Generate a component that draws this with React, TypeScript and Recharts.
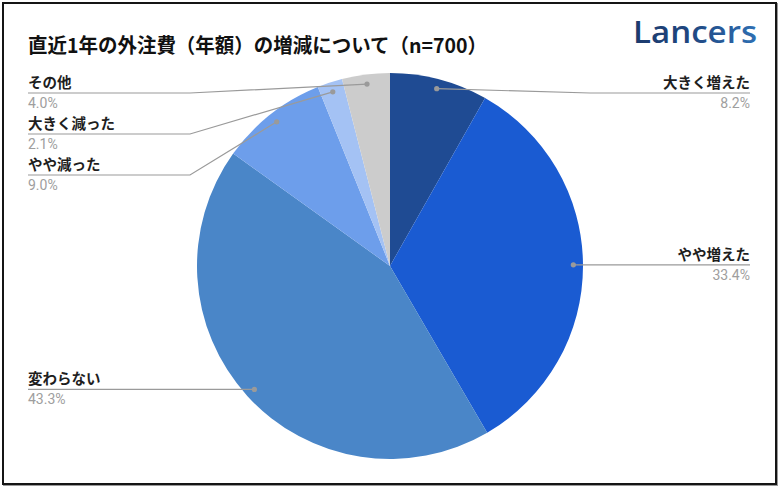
import React from 'react';
import { PieChart, Pie, Cell } from 'recharts';

const CATEGORIES = ['大きく増えた', 'やや増えた', '変わらない', 'やや減った', '大きく減った', 'その他'];
const SHARES = [8.2, 33.4, 43.3, 9.0, 2.1, 4.0];
const COLORS = ['#1f4b93', '#1a5bd2', '#4a86c8', '#6d9eeb', '#a4c2f4', '#cccccc'];

const TITLE = '直近1年の外注費（年額）の増減について（n=700）';

const data = CATEGORIES.map((name, i) => ({ name, value: SHARES[i] }));

const RAD = Math.PI / 180;
const LABEL_GAP = 41;
const TOP_LINE = 93;
const LEFT_EDGE = 28;
const RIGHT_EDGE = 750;
const FONT = '"Noto Sans CJK JP", "Noto Sans", sans-serif';

// stack label underlines per side so they don't collide
function labelLines(cx: number, cy: number, r: number) {
  const total = SHARES.reduce((a, b) => a + b, 0);
  let acc = 0;
  const pts = SHARES.map((v, i) => {
    const mid = 90 - ((acc + v / 2) / total) * 360;
    acc += v;
    return { i, x: cx + r * Math.cos(mid * RAD), y: cy - r * Math.sin(mid * RAD) };
  });
  const ys: number[] = [];
  for (const right of [true, false]) {
    const side = pts.filter((p) => (p.x >= cx) === right).sort((a, b) => a.y - b.y);
    let prev = -Infinity;
    side.forEach((p) => {
      const y = Math.max(p.y, TOP_LINE, prev + LABEL_GAP);
      ys[p.i] = y;
      prev = y;
    });
  }
  return ys;
}

const renderLabel = (props: any) => {
  const { cx, cy, midAngle, outerRadius, index } = props;
  const r = outerRadius * 0.95;
  const x = cx + r * Math.cos(-midAngle * RAD);
  const y = cy + r * Math.sin(-midAngle * RAD);
  const ly = labelLines(cx, cy, r)[index];
  const right = x >= cx;
  const edge = right ? RIGHT_EDGE : LEFT_EDGE;
  const elbow = right ? Math.max(590, x) : Math.min(190, x);
  const anchor = right ? 'end' : 'start';
  return (
    <g key={`lbl-${index}`}>
      <polyline
        points={`${x},${y} ${elbow},${ly} ${edge},${ly}`}
        fill="none"
        stroke="#9a9a9a"
        strokeWidth={1.2}
      />
      <circle cx={x} cy={y} r={2.6} fill="#9a9a9a" />
      <text x={edge} y={ly - 5} textAnchor={anchor} fontFamily={FONT} fontSize={14.5} fontWeight={700} fill="#1e1e1e">
        {CATEGORIES[index]}
      </text>
      <text x={edge} y={ly + 15} textAnchor={anchor} fontFamily="Roboto, sans-serif" fontSize={14} fill="#9e9e9e">
        {SHARES[index].toFixed(1)}%
      </text>
    </g>
  );
};

export default function App() {
  return (
    <div style={{ position: 'absolute', left: 0, top: 0, width: 780, height: 489, background: '#fff' }}>
      <div
        style={{
          position: 'absolute',
          left: 2,
          top: 2,
          width: 775,
          height: 483,
          boxSizing: 'border-box',
          border: '2px solid #151515',
          boxShadow: '1px 1px 0 #999',
        }}
      />
      <div style={{ position: 'absolute', left: 0, top: 0 }}>
        <PieChart width={780} height={489} margin={{ top: 0, right: 0, bottom: 0, left: 0 }}>
          <Pie
            data={data}
            dataKey="value"
            nameKey="name"
            cx={390}
            cy={266}
            outerRadius={193}
            startAngle={90}
            endAngle={-270}
            stroke="none"
            label={renderLabel}
            labelLine={false}
            isAnimationActive={false}
          >
            {data.map((d, i) => (
              <Cell key={`cell-${i}`} fill={COLORS[i]} />
            ))}
          </Pie>
        </PieChart>
      </div>
      <svg width={780} height={489} style={{ position: 'absolute', left: 0, top: 0, pointerEvents: 'none' }}>
        <defs>
          <linearGradient id="logoGrad" x1="0" y1="0" x2="1" y2="0">
            <stop offset="0%" stopColor="#1c3a6c" />
            <stop offset="45%" stopColor="#1f4680" />
            <stop offset="100%" stopColor="#2f6fb3" />
          </linearGradient>
        </defs>
        <text x={28} y={53} fontFamily={FONT} fontSize={20} fontWeight={700} fill="#111" textLength={459} lengthAdjust="spacingAndGlyphs">
          {TITLE}
        </text>
        <text
          x={633}
          y={43}
          fontFamily='"Open Sans", sans-serif'
          fontSize={30}
          fontWeight={600}
          textLength={124}
          lengthAdjust="spacingAndGlyphs"
          fill="url(#logoGrad)"
        >
          Lancers
        </text>
      </svg>
    </div>
  );
}
